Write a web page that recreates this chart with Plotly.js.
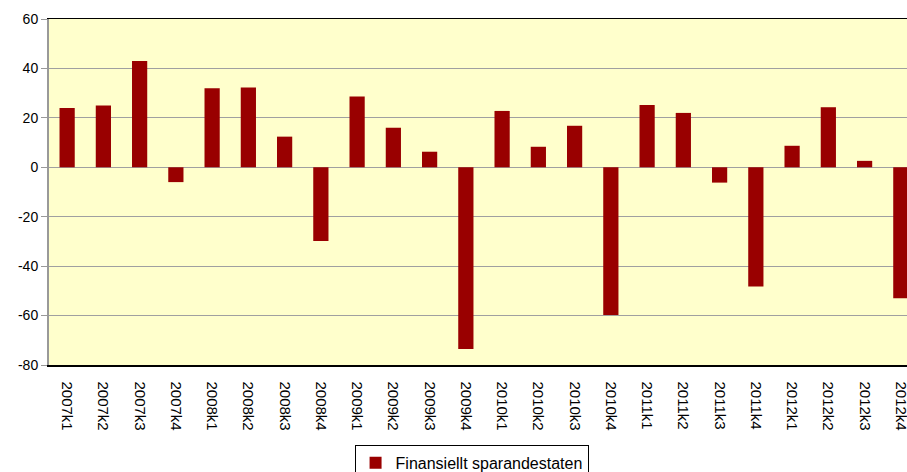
<!DOCTYPE html>
<html>
<head>
<meta charset="utf-8">
<script src="https://cdn.plot.ly/plotly-3.0.1.min.js"></script>
<style>
html,body{margin:0;padding:0;overflow:hidden;background:#fff;}
#chart{width:907px;height:472px;}
</style>
</head>
<body>
<div id="chart"></div>
<script>
const categories = ["2007k1","2007k2","2007k3","2007k4","2008k1","2008k2","2008k3","2008k4",
  "2009k1","2009k2","2009k3","2009k4","2010k1","2010k2","2010k3","2010k4",
  "2011k1","2011k2","2011k3","2011k4","2012k1","2012k2","2012k3","2012k4"];
const values = [24, 25, 43, -6, 32, 32.3, 12.4, -29.8,
  28.6, 16, 6.3, -73.5, 22.8, 8.3, 16.8, -59.8,
  25.2, 22, -6.2, -48.2, 8.7, 24.3, 2.6, -53];
const seriesName = "Finansiellt sparandestaten";
const yTicks = [-80, -60, -40, -20, 0, 20, 40, 60];

const font = "Liberation Sans, Arial, sans-serif";

const trace = {
  type: "bar",
  x: categories,
  y: values,
  name: seriesName,
  width: 0.42,
  marker: {color: "#990000", line: {width: 0}},
  showlegend: true
};

const layout = {
  width: 907,
  height: 472,
  margin: {l: 49, r: 0, t: 19, b: 107, autoexpand: false},
  paper_bgcolor: "#ffffff",
  plot_bgcolor: "#FFFFCC",
  font: {family: font, color: "#000", size: 13},
  xaxis: {
    type: "category",
    range: [-0.5, 23.17],
    tickangle: 90,
    ticks: "",
    ticklabelstandoff: 12,
    tickfont: {family: font, size: 15, color: "#000"},
    showline: true,
    linecolor: "#000",
    linewidth: 1.5,
    mirror: true,
    showgrid: false,
    zeroline: false,
    automargin: false,
    fixedrange: true
  },
  yaxis: {
    range: [-80, 60],
    tickvals: yTicks,
    ticktext: yTicks.map(String),
    ticks: "outside",
    ticklen: 6,
    tickcolor: "#999",
    tickwidth: 1,
    tickfont: {family: font, size: 14, color: "#000"},
    showline: true,
    linecolor: "#999",
    linewidth: 2,
    showgrid: true,
    gridcolor: "#a0a0a0",
    gridwidth: 1,
    zeroline: true,
    zerolinecolor: "#a0a0a0",
    zerolinewidth: 1.5,
    automargin: false,
    fixedrange: true
  },
  legend: {
    orientation: "h",
    x: 0.4925,
    xanchor: "center",
    yref: "container",
    y: 0.0575,
    yanchor: "top",
    bgcolor: "#fff",
    bordercolor: "#000",
    borderwidth: 1,
    font: {family: font, size: 16, color: "#000"},
    itemwidth: 30
  }
};

Plotly.newPlot("chart", [trace], layout, {displayModeBar: false, staticPlot: true});
</script>
</body>
</html>
